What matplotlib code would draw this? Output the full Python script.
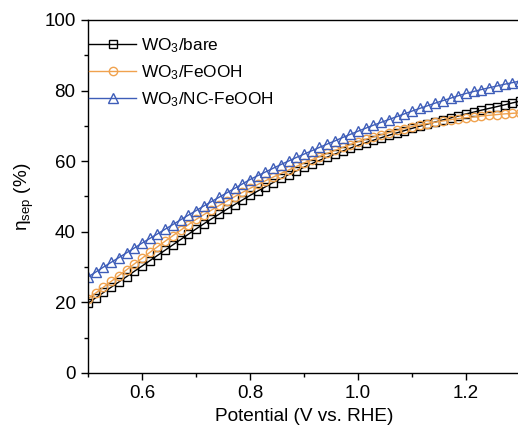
import numpy as np
import matplotlib
matplotlib.use("Agg")
import matplotlib.pyplot as plt
from matplotlib.ticker import MultipleLocator

plt.rcParams['font.family'] = ['Liberation Sans', 'DejaVu Sans']
plt.rcParams['mathtext.fontset'] = 'custom'
plt.rcParams['mathtext.rm'] = 'Liberation Sans'
plt.rcParams['mathtext.it'] = 'Liberation Sans:italic'
plt.rcParams['mathtext.bf'] = 'Liberation Sans:bold'

# potential grid (V vs. RHE), 57 points from 0.5 to 1.3
potential = np.linspace(0.5, 1.3, 57)

bare = [19.8, 21.3, 22.8, 24.3, 25.8, 27.3, 28.8, 30.3,
        31.8, 33.3, 34.8, 36.3, 37.8, 39.3, 40.8,
        42.25, 43.65, 45.0, 46.4, 47.7, 49.0, 50.3,
        51.55, 52.75, 53.95, 55.1, 56.2, 57.25, 58.3,
        59.3, 60.25, 61.15, 62.0, 62.85, 63.7, 64.5,
        65.25, 65.95, 66.65, 67.35, 68.0, 68.65, 69.3,
        69.9, 70.5, 71.1, 71.7, 72.25, 72.8, 73.4,
        73.9, 74.45, 74.95, 75.45, 75.95, 76.5, 77.0]

feooh = [21.0, 22.65, 24.3, 25.95, 27.6, 29.25, 30.9, 32.5,
         34.15, 35.75, 37.35, 38.9, 40.45, 42.0, 43.5,
         44.85, 46.15, 47.45, 48.7, 49.95, 51.15, 52.3,
         53.4, 54.45, 55.5, 56.5, 57.5, 58.5, 59.5,
         60.4, 61.3, 62.2, 63.05, 63.9, 64.7, 65.5,
         66.2, 66.85, 67.5, 68.1, 68.7, 69.25, 69.8,
         70.25, 70.65, 71.05, 71.4, 71.75, 72.05, 72.3,
         72.55, 72.8, 73.0, 73.2, 73.4, 73.55, 73.7]

nc_feooh = [27.2, 28.6, 30.0, 31.35, 32.7, 34.05, 35.4, 36.8,
            38.1, 39.4, 40.75, 42.05, 43.4, 44.7, 46.0,
            47.3, 48.55, 49.8, 51.05, 52.3, 53.55, 54.8,
            55.9, 56.95, 58.0, 59.05, 60.05, 61.05, 62.0,
            62.95, 63.9, 64.85, 65.75, 66.7, 67.6, 68.5,
            69.35, 70.2, 71.0, 71.8, 72.6, 73.4, 74.2,
            74.95, 75.7, 76.45, 77.15, 77.85, 78.55, 79.2,
            79.75, 80.3, 80.8, 81.3, 81.8, 82.25, 82.7]

labels = ['WO$_3$/bare', 'WO$_3$/FeOOH', 'WO$_3$/NC-FeOOH']
colors = ['black', '#F0A24E', '#3E5DB8']
markers = ['s', 'o', '^']
msizes = [5.5, 6.0, 6.5]

fig = plt.figure(figsize=(5.18, 4.34), dpi=100)
ax = fig.add_axes([0.170, 0.1406, 0.834, 0.8134])

for y, lab, c, m, ms in zip([bare, feooh, nc_feooh], labels, colors, markers, msizes):
    ax.plot(potential, y, color=c, marker=m, markersize=ms, markerfacecolor='none',
            markeredgecolor=c, markeredgewidth=1.0, linewidth=1.0, label=lab)

ax.set_xlim(0.5, 1.3)
ax.set_ylim(0, 100)
ax.xaxis.set_major_locator(MultipleLocator(0.2))
ax.xaxis.set_minor_locator(MultipleLocator(0.1))
ax.yaxis.set_major_locator(MultipleLocator(20))
ax.yaxis.set_minor_locator(MultipleLocator(10))
ax.set_xticks([0.6, 0.8, 1.0, 1.2])
ax.set_xticklabels(['0.6', '0.8', '1.0', '1.2'])
ax.tick_params(which='major', direction='out', length=5, width=1, labelsize=13.5, pad=4)
ax.tick_params(which='minor', direction='out', length=3, width=1)
for s in ax.spines.values():
    s.set_linewidth(1.0)

ax.set_xlabel('Potential (V vs. RHE)', fontsize=13.7, labelpad=4)
ax.set_ylabel(r'$\mathrm{\eta_{sep}}$ (%)', fontsize=13.7, labelpad=6)

ax.legend(loc='upper left', bbox_to_anchor=(0.003, 0.955), frameon=False,
          fontsize=12.4, handlelength=2.7, handletextpad=0.3, labelspacing=0.5,
          borderpad=0, borderaxespad=0)

fig.savefig('out.png', dpi=100)
